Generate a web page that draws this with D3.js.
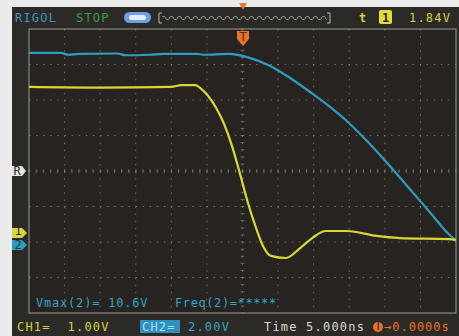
<!DOCTYPE html>
<html>
<head>
<meta charset="utf-8">
<script src="https://cdn.jsdelivr.net/npm/d3@7"></script>
<style>
  body { margin: 0; background: #ebebeb; }
  text { font-family: "DejaVu Sans Mono", monospace; font-size: 12px; }
</style>
</head>
<body>
<div id="chart"></div>
<script>
// CH1 (yellow, 1 V/div) samples: time in ns, volts
const ch1Time = [-30, -20, -10, -8.6, -6.6, -5.97, -4.85, -3.72, -2.6, -1.48, -0.35, 0.77, 1.9, 2.88, 4.0, 6.1, 8.1, 9.8, 11.7, 14.7, 18.8, 22.1, 29, 30];
const ch1Volt = [4.17, 4.15, 4.17, 4.22, 4.22, 4.14, 3.92, 3.58, 3.13, 2.51, 1.72, 0.9, 0.2, -0.31, -0.59, -0.65, -0.37, -0.09, 0.11, 0.11, -0.03, -0.09, -0.12, -0.14];

// CH2 (blue, 2 V/div) samples
const ch2Time = [-30, -25.5, -24.5, -23, -17.5, -16.5, -13, -11, -6.5, -5.5, -1.9, 0.9, 3.9, 6.7, 9.5, 12.3, 15.1, 17.9, 20.7, 23.5, 26.3, 29.1, 30];
const ch2Volt = [10.65, 10.65, 10.55, 10.6, 10.62, 10.52, 10.55, 10.6, 10.6, 10.55, 10.6, 10.39, 9.92, 9.24, 8.45, 7.61, 6.65, 5.52, 4.28, 2.99, 1.69, 0.39, 0.06];

// status texts
const topLabels = ["RIGOL", "STOP", "1.84V"];
const measLabels = ["Vmax(2)= 10.6V", "Freq(2)=*****"];
const bottomLabels = ["CH1=  1.00V", "CH2=", "2.00V", "Time 5.000ns", "\u21920.0000s"];

const W = 459, H = 336;
const svg = d3.select("#chart").append("svg")
    .attr("width", W).attr("height", H);

// screen frame
svg.append("rect").attr("x", 12).attr("y", 7).attr("width", W - 12).attr("height", H - 7).attr("fill", "#2c2a27");
const gx0 = 29, gx1 = 456, gy0 = 29, gy1 = 313;
svg.append("rect").attr("x", gx0).attr("y", gy0).attr("width", gx1 - gx0).attr("height", gy1 - gy0).attr("fill", "#262320");

// scales
const x = d3.scaleLinear().domain([-30, 30]).range([gx0, gx1]);
const ydiv = d3.scaleLinear().domain([-4, 4]).range([gy1, gy0]);
const y1 = d3.scaleLinear().domain([-2.2, 5.8]).range([gy1, gy0]);   // 1 V/div, offset -1.8 div
const y2 = d3.scaleLinear().domain([-4, 12]).range([gy1, gy0]);      // 2 V/div, offset -2 div

// grid
const grid = svg.append("g").attr("stroke", "#8d8a83").attr("stroke-width", 1);
d3.range(-25, 30, 5).forEach(t => {
    grid.append("line").attr("x1", x(t)).attr("x2", x(t)).attr("y1", gy0).attr("y2", gy1)
        .attr("stroke-dasharray", "1.5,5.6").attr("opacity", 0.75);
});
d3.range(-3, 4, 1).forEach(d => {
    grid.append("line").attr("x1", gx0).attr("x2", gx1).attr("y1", ydiv(d)).attr("y2", ydiv(d))
        .attr("stroke-dasharray", "1.5,5.6").attr("opacity", 0.75);
});
// center tick marks
d3.range(-30, 30.01, 1).forEach(t => {
    grid.append("line").attr("x1", x(t)).attr("x2", x(t)).attr("y1", ydiv(0) - 2).attr("y2", ydiv(0) + 2).attr("opacity", 0.6);
});
d3.range(-4, 4.01, 0.2).forEach(d => {
    grid.append("line").attr("x1", x(0) - 2).attr("x2", x(0) + 2).attr("y1", ydiv(d)).attr("y2", ydiv(d)).attr("opacity", 0.6);
});
svg.append("rect").attr("x", gx0).attr("y", gy0).attr("width", gx1 - gx0).attr("height", gy1 - gy0)
    .attr("fill", "none").attr("stroke", "#9c9a95").attr("stroke-width", 1);

// traces
const line1 = d3.line().x((d, i) => x(ch1Time[i])).y(d => y1(d)).curve(d3.curveMonotoneX);
const line2 = d3.line().x((d, i) => x(ch2Time[i])).y(d => y2(d)).curve(d3.curveMonotoneX);
svg.append("path").datum(ch2Volt).attr("d", line2).attr("fill", "none")
    .attr("stroke", "#2f9dbf").attr("stroke-width", 2.2);
svg.append("path").datum(ch1Volt).attr("d", line1).attr("fill", "none")
    .attr("stroke", "#d9d733").attr("stroke-width", 2.2);

// top bar
svg.append("text").attr("x", 15).attr("y", 22).attr("fill", "#3b98b4").attr("letter-spacing", 1.2).text(topLabels[0]);
svg.append("text").attr("x", 76).attr("y", 22).attr("fill", "#3f9a3c").attr("letter-spacing", 1.2).text(topLabels[1]);
svg.append("rect").attr("x", 124).attr("y", 12).attr("width", 27).attr("height", 11).attr("rx", 5.5).attr("fill", "#6f9fe6");
svg.append("rect").attr("x", 129).attr("y", 15).attr("width", 17).attr("height", 5).attr("rx", 2.5).attr("fill", "#e6eeff");
// memory squiggle
const sq = d3.range(0, 166, 1).map(i => [162 + i, 18 + (i % 8 < 4 ? -1.5 : 1.5)]);
svg.append("path").attr("d", "M159,13V23M159,13H162M159,23H162M330,13V23M330,13H327M330,23H327")
    .attr("stroke", "#b8b6b0").attr("fill", "none");
svg.append("path").attr("d", d3.line().curve(d3.curveBasis)(sq)).attr("stroke", "#9c9a95").attr("fill", "none");
svg.append("path").attr("d", "M239,3H247L243,10Z").attr("fill", "#e8742a");
svg.append("text").attr("x", 359).attr("y", 22).attr("fill", "#d8d040").attr("font-weight", "bold").text("t");
svg.append("rect").attr("x", 379).attr("y", 10).attr("width", 13).attr("height", 14).attr("rx", 2).attr("fill", "#e0dc3a");
svg.append("text").attr("x", 385.5).attr("y", 21.5).attr("text-anchor", "middle").attr("fill", "#2c2a27").attr("font-weight", "bold").text("1");
svg.append("text").attr("x", 409).attr("y", 22).attr("fill", "#d8d040").attr("letter-spacing", 1.2).text(topLabels[2]);

// trigger position marker
svg.append("path").attr("d", "M237,31H249V39L243,46L237,39Z").attr("fill", "#e8742a");
svg.append("text").attr("x", 243).attr("y", 41).attr("text-anchor", "middle").attr("font-size", "9px").attr("fill", "#5a2a0a").text("T");

// left channel markers (yellow nudged up, blue down so the tags stay readable)
svg.append("path").attr("d", `M12,${ydiv(0) - 5}H22L26,${ydiv(0)}L22,${ydiv(0) + 5}H12Z`).attr("fill", "#e4e4e4");
svg.append("text").attr("x", 17).attr("y", ydiv(0) + 3.5).attr("text-anchor", "middle").attr("font-size", "8px").attr("fill", "#2c2a27").text("R");
const m1 = y1(0) - 2, m2 = y2(0) + 3;
svg.append("path").attr("d", `M12,${m2 - 5}H22L27,${m2}L22,${m2 + 5}H12Z`).attr("fill", "#2f9dbf");
svg.append("path").attr("d", `M12,${m1 - 5}H22L27,${m1}L22,${m1 + 5}H12Z`).attr("fill", "#dcd83a");
svg.append("text").attr("x", 18).attr("y", m1 + 2.5).attr("text-anchor", "middle").attr("font-size", "6px").attr("fill", "#2c2a27").text("1");
svg.append("text").attr("x", 18).attr("y", m2 + 3.5).attr("text-anchor", "middle").attr("font-size", "6px").attr("fill", "#1a3a4a").text("2");

// measurements
svg.append("text").attr("x", 36).attr("y", 307).attr("fill", "#36a4c4").attr("letter-spacing", 0.8).text(measLabels[0]);
svg.append("text").attr("x", 175).attr("y", 307).attr("fill", "#36a4c4").attr("letter-spacing", 0.6).text(measLabels[1]);

// bottom status
svg.append("text").attr("x", 17).attr("y", 331).attr("fill", "#d8d040").attr("letter-spacing", 1.2).attr("xml:space", "preserve").text(bottomLabels[0]);
svg.append("rect").attr("x", 140).attr("y", 320).attr("width", 40).attr("height", 13).attr("fill", "#2f8fbf");
svg.append("text").attr("x", 142).attr("y", 331).attr("fill", "#a8e0f4").attr("letter-spacing", 1.2).text(bottomLabels[1]);
svg.append("text").attr("x", 188).attr("y", 331).attr("fill", "#36a4c4").attr("letter-spacing", 1.2).text(bottomLabels[2]);
svg.append("text").attr("x", 264).attr("y", 331).attr("fill", "#d8d8d4").attr("letter-spacing", 1.2).text(bottomLabels[3]);
svg.append("circle").attr("cx", 378).attr("cy", 327).attr("r", 5).attr("fill", "#e8742a");
svg.append("text").attr("x", 378).attr("y", 330).attr("text-anchor", "middle").attr("font-size", "8px").attr("fill", "#2c2a27").text("T");
svg.append("text").attr("x", 384).attr("y", 331).attr("fill", "#e8742a").attr("letter-spacing", 1.0).text(bottomLabels[4]);
</script>
</body>
</html>
